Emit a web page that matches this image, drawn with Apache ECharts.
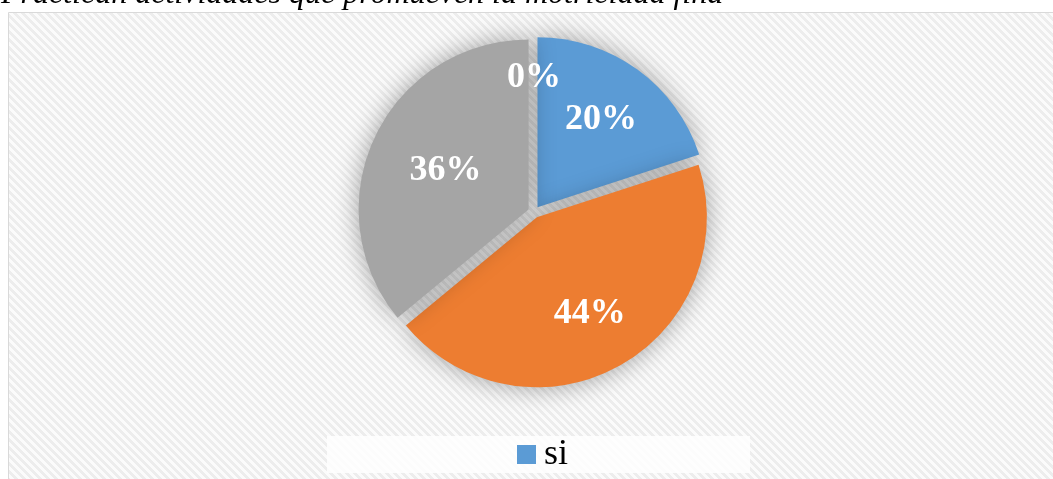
<!DOCTYPE html>
<html>
<head>
<meta charset="utf-8">
<script src="https://cdn.jsdelivr.net/npm/echarts@6/dist/echarts.min.js"></script>
<style>
  html, body { margin: 0; padding: 0; background: #fff; }
  #chart { width: 1053px; height: 479px; }
</style>
</head>
<body>
<div id="chart"></div>
<script>
const titleText = 'Practican actividades que promueven la motricidad fina';
const categories = ['si', 'no', 'a veces', 'nunca'];
const percents = [20, 44, 36, 0];
const colors = ['#5b9bd5', '#ed7d31', '#a5a5a5', '#ffc000'];
const legendShown = ['si'];

// how far out each label sits, relative to the default inside spot
const labelPush = [1.295, 1.315, 1.11, 1.525];
const pieCenter = [534, 212];

function makeHatch() {
    const c = document.createElement('canvas');
    c.width = 8;
    c.height = 8;
    const ctx = c.getContext('2d');
    const img = ctx.createImageData(8, 8);
    for (let y = 0; y < 8; y++) {
        for (let x = 0; x < 8; x++) {
            const k = ((x - y) % 8 + 8) % 8;
            const v = k < 4 ? 237 : 251;
            const i = (y * 8 + x) * 4;
            img.data[i] = v;
            img.data[i + 1] = v;
            img.data[i + 2] = v;
            img.data[i + 3] = 255;
        }
    }
    ctx.putImageData(img, 0, 0);
    return c;
}
const hatch = { image: makeHatch(), repeat: 'repeat' };

const chart = echarts.init(document.getElementById('chart'), undefined, { renderer: 'canvas' });

chart.setOption({
    backgroundColor: '#fff',
    animation: false,
    graphic: [
        {
            type: 'rect',
            z: -10,
            shape: { x: 8.5, y: 12.5, width: 1100, height: 500 },
            style: { fill: hatch, stroke: '#d9d9d9', lineWidth: 1 }
        },
        {
            type: 'text',
            z: 10,
            left: 1,
            top: -21,
            style: {
                text: titleText,
                font: 'italic 32px "Liberation Serif", "DejaVu Serif", serif',
                fill: '#000'
            }
        }
    ],
    legend: {
        data: legendShown,
        left: 327,
        top: 436,
        icon: 'rect',
        itemWidth: 19,
        itemHeight: 19,
        padding: [0, 182, 0, 190],
        selectedMode: false,
        backgroundColor: 'rgba(255,255,255,0.8)',
        textStyle: {
            fontFamily: '"Liberation Serif", serif',
            fontSize: 36,
            lineHeight: 37,
            padding: [0, 0, 0, 3],
            color: '#000'
        }
    },
    series: [
        {
            // exploded slices
            type: 'pie',
            center: pieCenter,
            radius: 170,
            startAngle: 90,
            clockwise: true,
            selectedMode: 'multiple',
            selectedOffset: 6,
            data: categories.map((name, i) => ({
                name,
                value: percents[i],
                selected: true,
                itemStyle: { color: colors[i] }
            })),
            itemStyle: {
                borderWidth: 0,
                shadowBlur: 26,
                shadowColor: 'rgba(0,0,0,0.36)'
            },
            label: { show: false },
            labelLine: { show: false },
            emphasis: { disabled: true }
        },
        {
            // labels only
            type: 'pie',
            center: pieCenter,
            radius: 170,
            startAngle: 90,
            clockwise: true,
            silent: true,
            avoidLabelOverlap: false,
            data: percents.map(v => ({ value: v })),
            itemStyle: { color: 'rgba(0,0,0,0)', borderWidth: 0 },
            label: {
                show: true,
                position: 'inside',
                formatter: p => p.value + '%',
                color: '#fff',
                fontFamily: '"Liberation Serif", serif',
                fontWeight: 'bold',
                fontSize: 36
            },
            labelLine: { show: false },
            labelLayout: function (params) {
                const r = params.labelRect;
                const lx = r.x + r.width / 2;
                const ly = r.y + r.height / 2;
                const k = labelPush[params.dataIndex];
                return {
                    x: pieCenter[0] + (lx - pieCenter[0]) * k,
                    y: pieCenter[1] + (ly - pieCenter[1]) * k,
                    align: 'center',
                    verticalAlign: 'middle'
                };
            },
            emphasis: { disabled: true }
        }
    ]
});
</script>
</body>
</html>
